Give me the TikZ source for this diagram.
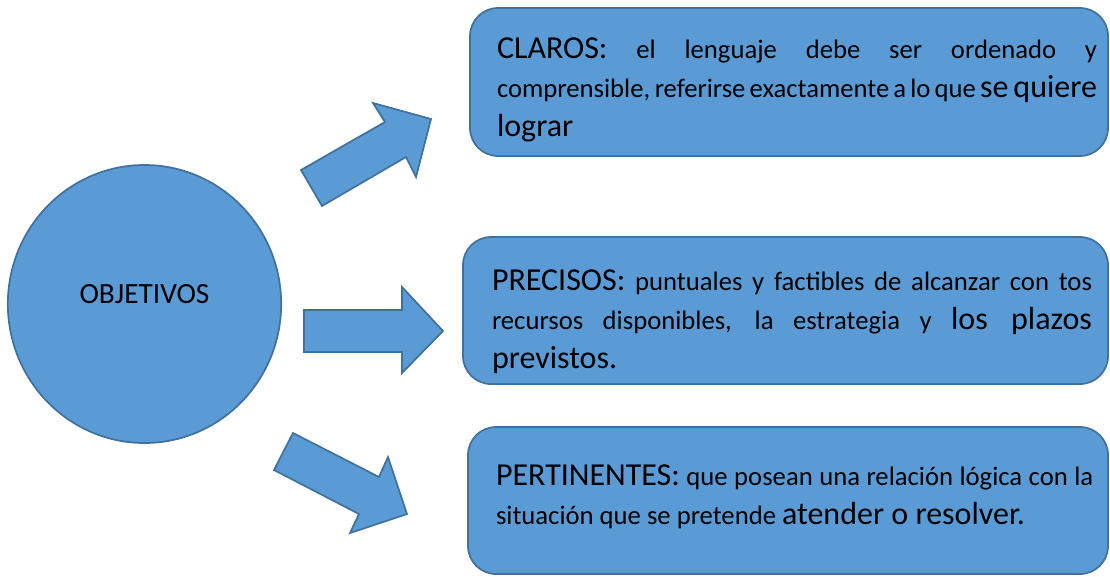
\documentclass[tikz,border=0pt]{standalone}
\usepackage{fontspec}
\setmainfont{Carlito}
\usetikzlibrary{shapes.geometric}
\definecolor{fillblue}{HTML}{5B9BD5}
\definecolor{edgeblue}{HTML}{41719C}
\newcommand{\bt}[1]{{\fontsize{24}{29.5}\selectfont #1}}
\newcommand{\smalltxt}{\fontsize{20}{29.5}\selectfont}
\tikzset{
  blueshape/.style={fill=fillblue, draw=edgeblue, line width=1.3pt, line join=miter},
  panel/.style={blueshape, rounded corners=21pt},
  txt/.style={anchor=base west, inner sep=0pt, outer sep=0pt},
}
\begin{document}
\begin{tikzpicture}[x=0.75pt,y=-0.75pt]
\useasboundingbox (0,0) rectangle (1110,576);

% circle
\node[blueshape, ellipse, minimum width=205pt, minimum height=208.5pt, inner sep=0pt] (obj) at (144.5,304) {};
\node[anchor=base, inner sep=0pt] (objt) at (144.5,303) {\fontsize{22}{26}\selectfont OBJETIVOS};

% block arrows
\draw[blueshape] (301,170) -- (385,122) -- (373,103) -- (431,119) -- (416,177) -- (406,157) -- (322,206) -- cycle;
\draw[blueshape] (304,310) -- (402,310) -- (402,287) -- (443,331) -- (402,373) -- (402,352) -- (304,352) -- cycle;
\draw[blueshape] (293,433) -- (379,477) -- (388,457) -- (407,514) -- (350,533) -- (359,514) -- (274,470) -- cycle;

% panels
\draw[panel] (470,8) rectangle (1108,156);
\draw[panel] (463,237) rectangle (1108,384);
\draw[panel] (468,427) rectangle (1108,574);

% texts
\node[txt] (tclaros) at (497,58) {\parbox[t]{450pt}{\smalltxt\bt{CLAROS:} el lenguaje debe ser ordenado y\linebreak comprensible, referirse exactamente a lo que \bt{se quiere}\linebreak \bt{lograr}}};
\node[txt] (tprec) at (492,290) {\parbox[t]{450pt}{\smalltxt\bt{PRECISOS:} puntuales y factibles de alcanzar con tos\linebreak recursos disponibles, la estrategia y \bt{los plazos}\linebreak \bt{previstos.}}};
\node[txt] (tpert) at (496,485) {\parbox[t]{448pt}{\smalltxt\bt{PERTINENTES:} que posean una relación lógica con la\linebreak situación que se pretende \bt{atender o resolver.}}};
\end{tikzpicture}
\end{document}
